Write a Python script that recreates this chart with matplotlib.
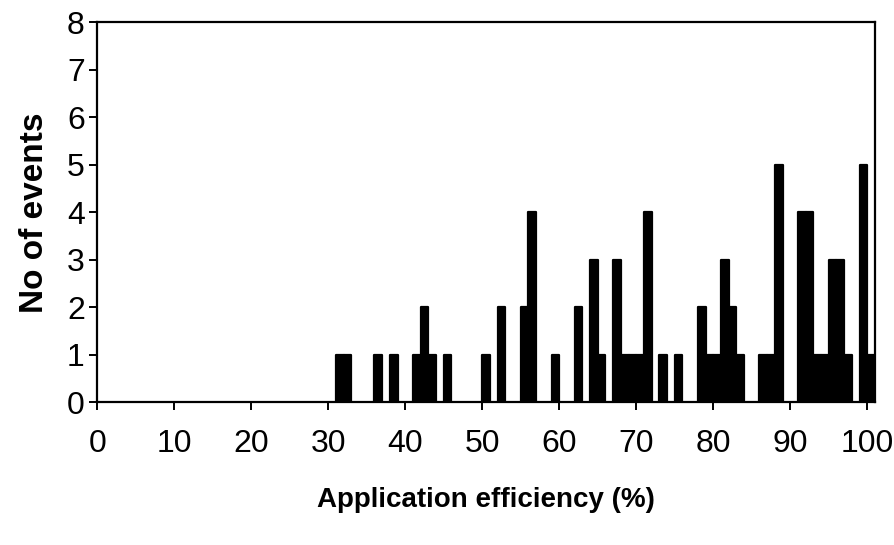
import matplotlib
matplotlib.use("Agg")
import matplotlib.pyplot as plt
from matplotlib import font_manager

# application efficiency (%) classes and number of events in each
efficiency = [31, 32, 36, 38, 41, 42, 43, 45, 50, 52, 55, 56, 59, 62, 64, 65,
              67, 68, 69, 70, 71, 73, 75, 78, 79, 80, 81, 82, 83, 86, 87, 88,
              91, 92, 93, 94, 95, 96, 97, 99, 100]
events = [1, 1, 1, 1, 1, 2, 1, 1, 1, 2, 2, 4, 1, 2, 3, 1,
          3, 1, 1, 1, 4, 1, 1, 2, 1, 1, 3, 2, 1, 1, 1, 5,
          4, 4, 1, 1, 3, 3, 1, 5, 1]
xticks = list(range(0, 101, 10))
yticks = list(range(0, 9))

names = {f.name for f in font_manager.fontManager.ttflist}
narrow = "Liberation Sans Narrow" if "Liberation Sans Narrow" in names else "Liberation Sans"

fig = plt.figure(figsize=(8.94, 5.45), dpi=100)
ax = fig.add_axes([0.1088, 0.2615, 0.8699, 0.6978])

ax.bar(efficiency, events, width=1.0, align="edge", color="black",
       edgecolor="black", linewidth=1.6, joinstyle="round")

ax.set_xlim(0, 101)
ax.set_ylim(0, 8)
ax.set_xticks(xticks)
ax.set_yticks(yticks)
for s in ax.spines.values():
    s.set_linewidth(1.6)
ax.tick_params(axis="both", direction="out", length=6, width=1.4)
ax.tick_params(axis="x", pad=13)
ax.tick_params(axis="y", pad=3)
for lab in ax.get_xticklabels() + ax.get_yticklabels():
    lab.set_fontfamily(narrow)
    lab.set_fontsize(23)

ax.set_xlabel("Application efficiency (%)", fontfamily=narrow,
              fontweight="bold", fontsize=20, labelpad=20)
ax.set_ylabel("No of events", fontfamily="Liberation Sans",
              fontweight="bold", fontsize=24, labelpad=12)

fig.savefig("out.png", dpi=100)
